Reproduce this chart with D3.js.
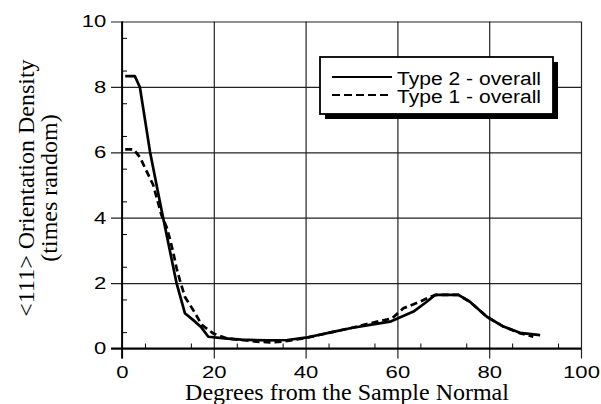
<!DOCTYPE html>
<html>
<head>
<meta charset="utf-8">
<script src="https://cdn.jsdelivr.net/npm/d3@7"></script>
<style>
  body { margin: 0; background: #fff; }
  svg { display: block; }
  .tick text { font-family: "Liberation Sans", Arial, sans-serif; font-size: 17px; fill: #000; }
  .serif { font-family: "Liberation Serif", "Times New Roman", "DejaVu Serif", serif; font-size: 24px; fill: #000; }
</style>
</head>
<body>
<div id="chart"></div>
<script>
// data
const type2Deg = [0.7, 2.8, 3.9, 6.1, 8.6, 11.9, 13.7, 15.6, 17.2, 18.8, 22.4, 26.0, 31.5, 36.0, 40.0, 46.0, 49.7, 54.0, 58.4, 63.5, 66.4, 68.2, 73.3, 75.8, 79.5, 83.1, 86.7, 91.1];
const type2Val = [8.33, 8.33, 7.99, 6.02, 4.24, 1.99, 1.08, 0.86, 0.66, 0.36, 0.31, 0.27, 0.25, 0.26, 0.33, 0.51, 0.62, 0.72, 0.82, 1.13, 1.43, 1.64, 1.64, 1.43, 0.97, 0.67, 0.48, 0.41];

const type1Deg = [0.7, 2.5, 3.9, 5.4, 6.8, 8.6, 9.7, 10.5, 11.2, 11.9, 12.6, 13.7, 15.5, 17.4, 19.9, 22.8, 29.3, 32.2, 35.1, 40.0, 46.0, 49.7, 54.0, 58.8, 61.3, 64.9, 67.5, 68.5, 73.3, 75.8, 79.5, 83.1, 86.7, 89.6];
const type1Val = [6.09, 6.09, 5.85, 5.41, 5.0, 4.08, 3.72, 3.32, 2.91, 2.45, 2.09, 1.58, 1.18, 0.72, 0.46, 0.31, 0.21, 0.19, 0.21, 0.32, 0.51, 0.62, 0.77, 0.92, 1.23, 1.43, 1.6, 1.64, 1.64, 1.43, 0.97, 0.67, 0.47, 0.36];

const seriesNames = ["Type 2 - overall", "Type 1 - overall"];
const xTicks = [0, 20, 40, 60, 80, 100];
const yTicks = [0, 2, 4, 6, 8, 10];

width = 601;
height = 404;
margin = { top: 21.5, right: 20, bottom: 55.5, left: 122 };
innerW = 581 - margin.left;
innerH = height - margin.top - margin.bottom;

xScale = d3.scaleLinear().domain([0, 100]).range([0, innerW]);
yScale = d3.scaleLinear().domain([0, 10]).range([innerH, 0]);

svg = d3.select("#chart").append("svg")
    .attr("width", width)
    .attr("height", height)
    .append("g")
    .attr("transform", `translate(${margin.left}, ${margin.top})`);

/* grid + major ticks: full-length ticks that stick out past the axes */
gridX = svg.append("g")
    .attr("transform", `translate(0, ${innerH})`)
    .call(d3.axisBottom(xScale).tickValues(xTicks).tickSize(10).tickSizeOuter(0));
gridX.select(".domain").remove();
gridX.selectAll(".tick line")
    .attr("y1", -innerH)
    .attr("y2", 10)
    .attr("stroke", "#222")
    .attr("stroke-width", 1.2);
gridX.selectAll(".tick text")
    .attr("y", 30)
    .attr("dy", 0)
    .attr("transform", "scale(1.3,1)");

gridY = svg.append("g")
    .call(d3.axisLeft(yScale).tickValues(yTicks).tickSize(11).tickPadding(4).tickSizeOuter(0));
gridY.select(".domain").remove();
gridY.selectAll(".tick line")
    .attr("x1", -11)
    .attr("x2", innerW)
    .attr("stroke", "#222")
    .attr("stroke-width", 1.2);
gridY.selectAll(".tick text")
    .attr("x", -12)
    .attr("transform", "scale(1.3,1)");

/* minor ticks, pointing inward */
minorY = d3.range(0.5, 10, 1);
svg.append("g")
    .call(d3.axisRight(yScale).tickValues(minorY).tickSize(5).tickFormat("").tickSizeOuter(0))
    .select(".domain").remove();

minorX = d3.range(5, 100, 10);
svg.append("g")
    .attr("transform", `translate(0, ${innerH})`)
    .call(d3.axisTop(xScale).tickValues(minorX).tickSize(5).tickFormat("").tickSizeOuter(0))
    .select(".domain").remove();

svg.selectAll(".tick line").filter(function () { return !this.getAttribute("stroke"); })
    .attr("stroke", "#000")
    .attr("stroke-width", 1.2);

// left and bottom axis lines a bit heavier
svg.append("line")
    .attr("x1", xScale(0)).attr("x2", xScale(0))
    .attr("y1", yScale(10)).attr("y2", yScale(0) + 10)
    .attr("stroke", "#000").attr("stroke-width", 1.8);
svg.append("line")
    .attr("x1", xScale(0) - 11).attr("x2", xScale(100))
    .attr("y1", yScale(0)).attr("y2", yScale(0))
    .attr("stroke", "#000").attr("stroke-width", 1.8);

/* curves */
line = d3.line()
    .x(d => xScale(d[0]))
    .y(d => yScale(d[1]));

svg.append("path")
    .datum(d3.zip(type2Deg, type2Val))
    .attr("d", line)
    .attr("fill", "none")
    .attr("stroke", "#000")
    .attr("stroke-width", 2.7)
    .attr("stroke-linejoin", "round");

svg.append("path")
    .datum(d3.zip(type1Deg, type1Val))
    .attr("d", line)
    .attr("fill", "none")
    .attr("stroke", "#000")
    .attr("stroke-width", 2.7)
    .attr("stroke-dasharray", "7,4");

/* legend box with drop shadow */
legend = d3.select("svg").append("g")
    .attr("transform", "translate(320, 57)");
legW = 233;
legH = 57;
legend.append("rect")
    .attr("x", 5).attr("y", 5)
    .attr("width", legW).attr("height", legH)
    .attr("fill", "#000");
legend.append("rect")
    .attr("width", legW).attr("height", legH)
    .attr("fill", "#fff")
    .attr("stroke", "#000")
    .attr("stroke-width", 1.8);

legend.selectAll(".legend-item")
    .data(seriesNames).enter()
    .append("g")
    .attr("class", "legend-item")
    .attr("transform", (d, i) => `translate(0, ${20 + i * 18})`)
    .each(function (d, i) {
        g = d3.select(this);
        g.append("line")
            .attr("x1", 12).attr("x2", 72)
            .attr("stroke", "#000")
            .attr("stroke-width", 2)
            .attr("stroke-dasharray", i == 1 ? "8,4" : null);
        g.append("text")
            .attr("x", 77)
            .attr("y", 3)
            .attr("dy", "0.3em")
            .attr("textLength", 144)
            .attr("lengthAdjust", "spacingAndGlyphs")
            .style("font-family", "'Liberation Sans', Arial, sans-serif")
            .style("font-size", "18px")
            .text(d);
    });

/* axis titles */
d3.select("svg").append("text")
    .attr("class", "serif")
    .attr("x", 347)
    .attr("y", 400)
    .attr("text-anchor", "middle")
    .text("Degrees from the Sample Normal");

yTitle = d3.select("svg").append("text")
    .attr("class", "serif")
    .attr("transform", "translate(34, 188) rotate(-90)")
    .attr("text-anchor", "middle");
yTitle.append("tspan").attr("x", 0).attr("y", 0).text("<111> Orientation Density");
yTitle.append("tspan").attr("x", 0).attr("y", 23).text("(times random)");
</script>
</body>
</html>
